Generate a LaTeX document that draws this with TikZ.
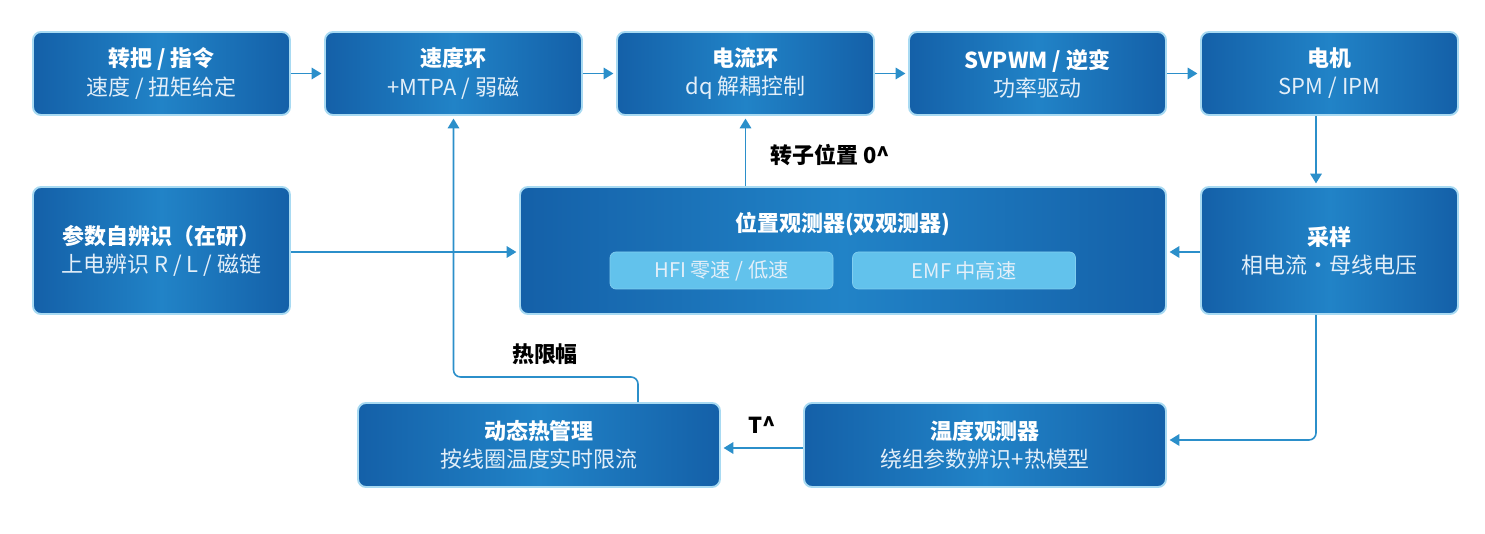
\documentclass[tikz,border=0pt]{standalone}
\usepackage{fontspec}
\setmainfont{Noto Sans CJK SC}
\usetikzlibrary{arrows.meta}

\definecolor{boxdark}{HTML}{1460A8}
\definecolor{boxmid}{HTML}{2183C7}
\definecolor{boxedge}{HTML}{A8DAF2}
\definecolor{subbox}{HTML}{62C2EC}
\definecolor{wire}{HTML}{2B8FCA}
\definecolor{subtext}{HTML}{E3EFF9}

\tikzset{
  block/.style={rectangle, rounded corners=0.16cm, draw=boxedge, line width=1.1pt,
    left color=boxdark, right color=boxdark, middle color=boxmid, text=white,
    align=center, minimum width=5.14cm, minimum height=1.66cm,
    font=\fontsize{12.5}{16}\selectfont},
  subblock/.style={rectangle, rounded corners=0.12cm, fill=subbox, draw=subbox!80!white,
    text=subtext, minimum width=4.46cm, minimum height=0.74cm,
    font=\fontsize{11.5}{14}\selectfont},
  wire/.style={draw=wire, line width=0.9pt, -{Triangle[length=5.5pt,width=6.5pt]}, shorten >=1.5pt},
  lbl/.style={text=black, font=\fontsize{12.5}{15}\selectfont\bfseries},
}
\newcommand{\twoline}[2]{{\bfseries #1}\\{\color{subtext}#2}}

\begin{document}
\begin{tikzpicture}
\useasboundingbox (0,0) rectangle (29.7,10.68);
%%   kw   (name)   (x, y)   {text}
    \node[block] (cmd)  at (3.23,9.21)  {\twoline{转把 / 指令}{速度 / 扭矩给定}};
    \node[block] (spd)  at (9.07,9.21)  {\twoline{速度环}{+MTPA / 弱磁}};
    \node[block] (cur)  at (14.91,9.21) {\twoline{电流环}{dq 解耦控制}};
    \node[block] (pwm)  at (20.75,9.21) {\twoline{SVPWM / 逆变}{功率驱动}};
    \node[block] (mot)  at (26.59,9.21) {\twoline{电机}{SPM / IPM}};
    \node[block, minimum height=2.54cm] (ident) at (3.23,5.67) {\twoline{参数自辨识（在研）}{上电辨识 R / L / 磁链}};
    \node[block, minimum width=12.92cm, minimum height=2.54cm] (obs) at (16.86,5.67) {};
    \node[text=white, font=\fontsize{12.5}{15}\selectfont\bfseries] (obstitle) at (16.86,6.20) {位置观测器(双观测器)};
    \node[subblock] (hfi) at (14.43,5.27) {HFI 零速 / 低速};
    \node[subblock] (emf) at (19.28,5.27) {EMF 中高速};
    \node[block, minimum height=2.54cm] (samp) at (26.59,5.67) {\twoline{采样}{相电流·母线电压}};
    \node[block, minimum width=7.24cm, minimum height=1.68cm] (therm) at (10.78,1.78) {\twoline{动态热管理}{按线圈温度实时限流}};
    \node[block, minimum width=7.24cm, minimum height=1.68cm] (temp)  at (19.70,1.78) {\twoline{温度观测器}{绕组参数辨识+热模型}};

    \coordinate (tap) at (26.32,1.88);
    \coordinate (lim) at (12.76,3.14);

    \draw[wire] (cmd) -- (spd);
    \draw[wire] (spd) -- (cur);
    \draw[wire] (cur) -- (pwm);
    \draw[wire] (pwm) -- (mot);
    \draw[wire] (mot.south -| tap) -- (samp.north -| tap);
    \draw[wire] (samp.west |- 0,5.64) -- (obs.east |- 0,5.64);
    \draw[wire] (ident.east |- 0,5.64) -- (obs.west |- 0,5.64);
    \draw[wire] (obs.north -| cur) -- (cur.south);
    \draw[wire, rounded corners=4pt] (samp.south -| tap) |- (temp.east |- tap);
    \draw[wire] (temp.west |- 0,1.72) -- (therm.east |- 0,1.72);
    \draw[wire, rounded corners=4pt] (therm.north -| lim) -- (lim) -| (spd.south);

    \node[lbl, anchor=west] (rotor) at (15.28,7.58) {转子位置 0\textasciicircum};
    \node[lbl] (tlab) at (15.24,2.18) {T\textasciicircum};
    \node[lbl] (hlim) at (10.90,3.60) {热限幅};
\end{tikzpicture}
\end{document}
